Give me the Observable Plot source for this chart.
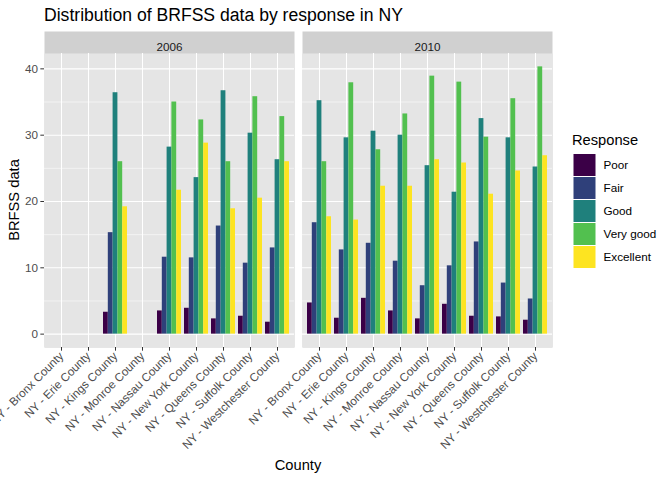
<!DOCTYPE html>
<html><head><meta charset="utf-8">
<script src="https://cdn.jsdelivr.net/npm/d3@7"></script>
<script src="https://cdn.jsdelivr.net/npm/@observablehq/plot@0.6"></script>
<style>
body{margin:0;background:#fff;}
#wrap{position:relative;width:672px;height:480px;overflow:hidden;}
</style></head><body><div id="wrap"></div>
<script>
const counties = ["NY - Bronx County","NY - Erie County","NY - Kings County","NY - Monroe County","NY - Nassau County","NY - New York County","NY - Queens County","NY - Suffolk County","NY - Westchester County"];
const responses = ["Poor","Fair","Good","Very good","Excellent"];
const years = ["2006","2010"];
const colors = ["#3B0047","#2F407A","#1F807C","#52C04F","#FDE421"];

// 2006 (Bronx, Erie, Monroe missing)
const poor2006      = [null, null, 3.3, null, 3.5, 3.9, 2.3, 2.7, 1.8];
const fair2006      = [null, null, 15.3, null, 11.6, 11.5, 16.3, 10.7, 13.0];
const good2006      = [null, null, 36.4, null, 28.2, 23.6, 36.7, 30.3, 26.3];
const veryGood2006  = [null, null, 26.0, null, 35.0, 32.3, 26.0, 35.8, 32.8];
const excellent2006 = [null, null, 19.2, null, 21.7, 28.8, 18.9, 20.5, 26.0];
// 2010
const poor2010      = [4.7, 2.4, 5.4, 3.5, 2.3, 4.5, 2.7, 2.6, 2.1];
const fair2010      = [16.8, 12.7, 13.7, 11.0, 7.3, 10.3, 13.9, 7.7, 5.3];
const good2010      = [35.2, 29.6, 30.6, 30.0, 25.4, 21.4, 32.5, 29.6, 25.2];
const veryGood2010  = [26.0, 37.9, 27.8, 33.2, 38.9, 38.0, 29.7, 35.5, 40.3];
const excellent2010 = [17.7, 17.2, 22.3, 22.3, 26.3, 25.8, 21.1, 24.6, 26.9];

const majorTicks = [0, 10, 20, 30, 40];
const minorTicks = [5, 15, 25, 35];

const series = {
  "2006": [poor2006, fair2006, good2006, veryGood2006, excellent2006],
  "2010": [poor2010, fair2010, good2010, veryGood2010, excellent2010]
};
const rows = [];
for (const yr of years) {
  series[yr].forEach((arr, ri) => {
    arr.forEach((v, ci) => {
      if (v != null) rows.push({year: yr, county: counties[ci], response: responses[ri], value: v});
    });
  });
}
const ymax = d3.max(rows, d => d.value);

function build(bw) {
  const sub = bw / responses.length;
  return Plot.plot({
    width: 672, height: 480,
    marginTop: 53, marginLeft: 44, marginRight: 120, marginBottom: 133,
    style: {fontFamily: "'Liberation Sans', Arial, sans-serif", background: "transparent", overflow: "visible"},
    fx: {domain: years, paddingInner: 8/258, paddingOuter: 0, axis: null, label: null},
    x: {domain: counties, paddingInner: 0.1, paddingOuter: 0.15, label: null},
    y: {domain: [-0.05 * ymax, 1.05 * ymax], label: null},
    color: {domain: responses, range: colors},
    marks: [
      Plot.frame({fill: "#D0D0D0", stroke: "none", insetTop: -22}),
      Plot.frame({fill: "#E5E5E5", stroke: "none"}),
      Plot.gridY(minorTicks, {stroke: "white", strokeOpacity: 1, strokeWidth: 0.53}),
      Plot.gridY(majorTicks, {stroke: "white", strokeOpacity: 1, strokeWidth: 1.07}),
      Plot.gridX({stroke: "white", strokeOpacity: 1, strokeWidth: 1.07}),
      ...responses.map((r, i) => Plot.barY(rows.filter(d => d.response === r), {
        fx: "year", x: "county", y: "value", fill: "response",
        insetLeft: i * sub, insetRight: (responses.length - 1 - i) * sub
      })),
      Plot.text(years, {fx: d => d, text: d => d, frameAnchor: "top", dy: -11, fontSize: 11.7, fill: "#1A1A1A"}),
      Plot.axisY(majorTicks, {tickSize: 3.67, tickPadding: 2.93, fontSize: 11.7, fill: "#4D4D4D", stroke: "#333333", label: null}),
      Plot.axisX({tickRotate: -45, tickSize: 3.67, tickPadding: 2.93, fontSize: 11.7, fill: "#4D4D4D", stroke: "#333333", label: null})
    ]
  });
}

let bw;
try {
  const p0 = build(0);
  bw = p0.scale("x").bandwidth;
} catch (e) { bw = undefined; }
if (!bw) bw = 0.9 * 250 / 9.2;
const chart = build(bw);
document.getElementById("wrap").appendChild(chart);

// titles and legend
const svg = d3.select(chart);
const ff = "'Liberation Sans', Arial, sans-serif";
const g = svg.append("g").attr("font-family", ff).attr("text-anchor", "start");
g.append("text").attr("x", 44).attr("y", 21).attr("font-size", 17.6).attr("fill", "#000")
  .attr("text-anchor", "start").text("Distribution of BRFSS data by response in NY");
g.append("text").attr("transform", "translate(19,200) rotate(-90)").attr("text-anchor", "middle")
  .attr("font-size", 14.7).attr("fill", "#000").text("BRFSS data");
g.append("text").attr("x", 298).attr("y", 470).attr("text-anchor", "middle")
  .attr("font-size", 14.7).attr("fill", "#000").text("County");
g.append("text").attr("x", 572).attr("y", 145).attr("text-anchor", "start")
  .attr("font-size", 14.7).attr("fill", "#000").text("Response");
responses.forEach((r, i) => {
  const y0 = 153.5 + 23 * i;
  g.append("rect").attr("x", 573.5).attr("y", y0 + 0.5).attr("width", 22).attr("height", 22).attr("fill", colors[i]);
  g.append("text").attr("x", 603.5).attr("y", y0 + 11.5 + 4.2).attr("text-anchor", "start")
    .attr("font-size", 11.7).attr("fill", "#000").text(r);
});
</script>
</body></html>
